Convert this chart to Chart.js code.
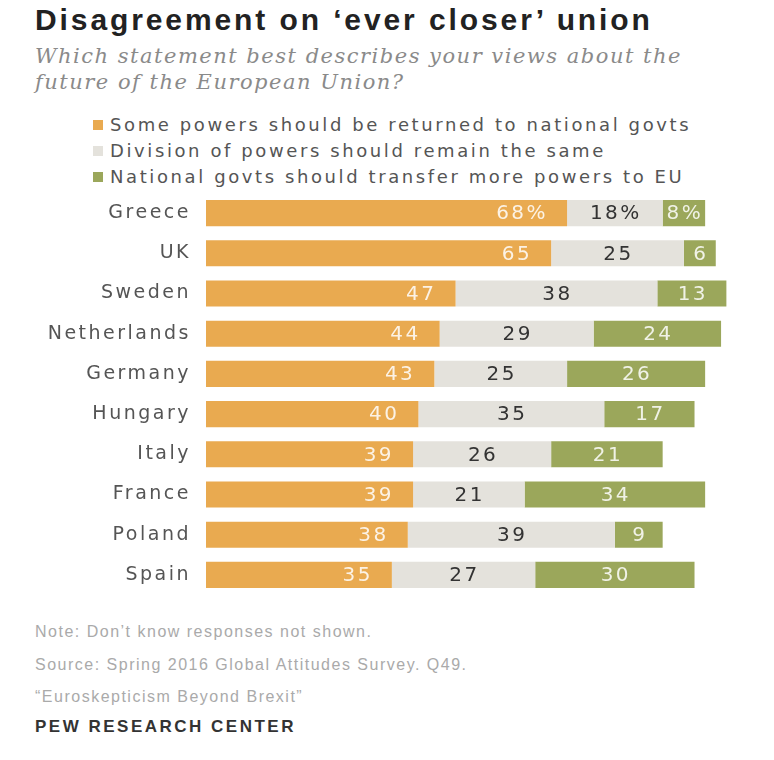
<!DOCTYPE html>
<html>
<head>
<meta charset="utf-8">
<script src="https://cdn.jsdelivr.net/npm/chart.js@4.4.1/dist/chart.umd.min.js"></script>
<style>
  body { margin: 0; background: #fff; width: 774px; height: 760px; position: relative; overflow: hidden; font-family: "DejaVu Sans", sans-serif; }
  .t { position: absolute; white-space: nowrap; }
  #title { left: 35px; top: 2px; font-family: "Liberation Sans", Arial, sans-serif; font-size: 30px; font-weight: bold; color: #222; line-height: 36px; letter-spacing: 2.9px; }
  #sub { left: 35px; top: 43px; font-family: "DejaVu Serif", Georgia, serif; font-style: italic; font-size: 21px; color: #8a8a8a; line-height: 26px; letter-spacing: 1.5px; }
  #legend { left: 93px; top: 112px; font-size: 18px; color: #555; letter-spacing: 2.6px; }
  #legend div { height: 26px; line-height: 26px; }
  #legend span { display: inline-block; width: 10px; height: 10px; margin-right: 7px; vertical-align: 1px; }
  #foot { left: 35px; top: 619px; font-family: "Liberation Sans", Arial, sans-serif; font-size: 16px; color: #aaa; letter-spacing: 1.5px; }
  #foot div { height: 32.5px; line-height: 26px; }
  #pew { left: 35px; top: 717px; font-family: "Liberation Sans", Arial, sans-serif; font-size: 17px; font-weight: bold; color: #333; letter-spacing: 2.5px; }
  #wrap { position: absolute; left: 0; top: 193px; width: 774px; height: 402px; }
</style>
</head>
<body>
<div class="t" id="title">Disagreement on ‘ever closer’ union</div>
<div class="t" id="sub">Which statement best describes your views about the<br>future of the European Union?</div>
<div class="t" id="legend"></div>
<div class="t" id="foot">
  <div>Note: Don’t know responses not shown.</div>
  <div>Source: Spring 2016 Global Attitudes Survey. Q49.</div>
  <div>“Euroskepticism Beyond Brexit”</div>
</div>
<div class="t" id="pew">PEW RESEARCH CENTER</div>
<div id="wrap"><canvas id="chart" width="774" height="402"></canvas></div>

<script>
const countries = ['Greece', 'UK', 'Sweden', 'Netherlands', 'Germany', 'Hungary', 'Italy', 'France', 'Poland', 'Spain'];
const seriesNames = [
  'Some powers should be returned to national govts',
  'Division of powers should remain the same',
  'National govts should transfer more powers to EU'
];
const returnPowers = [68, 65, 47, 44, 43, 40, 39, 39, 38, 35];
const remainSame = [18, 25, 38, 29, 25, 35, 26, 21, 39, 27];
const transferMore = [8, 6, 13, 24, 26, 17, 21, 34, 9, 30];
const colors = ['#e9aa50', '#e4e2dc', '#9ba75b'];
const labelColors = ['rgba(255,255,255,0.85)', '#333333', 'rgba(255,255,255,0.85)'];

// legend built from the series names
const legendEl = document.getElementById('legend');
seriesNames.forEach((name, i) => {
  const row = document.createElement('div');
  row.innerHTML = '<span style="background:' + colors[i] + '"></span>' + name;
  legendEl.appendChild(row);
});

// wide tracking like the original Franklin Gothic text
const tracking = {
  id: 'tracking',
  beforeDraw(chart) { chart.ctx.letterSpacing = '2.5px'; }
};

// value labels on each segment
const segmentLabels = {
  id: 'segmentLabels',
  afterDatasetsDraw(chart) {
    const ctx = chart.ctx;
    ctx.save();
    ctx.letterSpacing = '2.5px';
    ctx.font = '20px "DejaVu Sans", sans-serif';
    ctx.textBaseline = 'middle';
    chart.data.datasets.forEach((ds, di) => {
      const meta = chart.getDatasetMeta(di);
      meta.data.forEach((bar, i) => {
        const v = ds.data[i];
        const txt = v + (i === 0 ? '%' : '');
        ctx.fillStyle = labelColors[di];
        if (di === 0) {
          ctx.textAlign = 'right';
          ctx.fillText(txt, bar.x - 19, bar.y + 1);
        } else {
          ctx.textAlign = 'center';
          ctx.fillText(txt, (bar.x + bar.base) / 2 + 1, bar.y + 1);
        }
      });
    });
    ctx.restore();
  }
};

const series = [returnPowers, remainSame, transferMore];

new Chart(document.getElementById('chart'), {
  type: 'bar',
  data: {
    labels: countries,
    datasets: series.map((d, i) => ({
      label: seriesNames[i],
      data: d,
      backgroundColor: colors[i],
      borderWidth: 0,
      barPercentage: 0.65,
      categoryPercentage: 1
    }))
  },
  options: {
    indexAxis: 'y',
    responsive: false,
    animation: false,
    layout: { autoPadding: false, padding: { left: 0, right: 37, top: 0, bottom: 0 } },
    plugins: {
      legend: { display: false },
      tooltip: { enabled: false }
    },
    scales: {
      x: {
        stacked: true,
        min: 0,
        max: 100,
        display: false
      },
      y: {
        stacked: true,
        grid: { display: false },
        border: { display: false },
        ticks: {
          color: '#555',
          padding: 7,
          font: { size: 19, family: '"DejaVu Sans", sans-serif' }
        },
        afterFit(scale) {
          // fixed label column, and no extra space above/below the bars
          scale.width = 206;
          scale.paddingTop = 0;
          scale.paddingBottom = 0;
        }
      }
    }
  },
  plugins: [tracking, segmentLabels]
});
</script>
</body>
</html>
